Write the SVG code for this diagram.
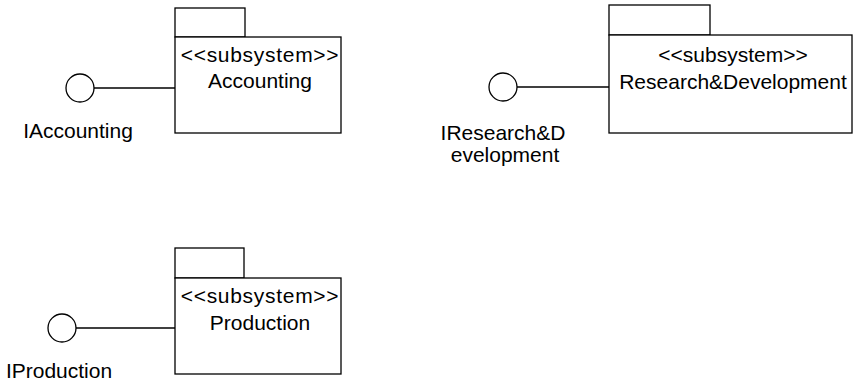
<svg xmlns="http://www.w3.org/2000/svg" width="857" height="383" viewBox="0 0 857 383">
<style>
.shape{fill:#fff;stroke:#000;stroke-width:1.3}
.conn{fill:none;stroke:#000;stroke-width:1.3}
text{font-family:"Liberation Sans",Arial,sans-serif;font-size:21px;fill:#000;text-anchor:middle}
.st{letter-spacing:0.7px}
</style>
<rect width="857" height="383" fill="#fff"/>
<g id="connectors">
<line class="conn" x1="94" y1="88" x2="175" y2="88"/>
<line class="conn" x1="517" y1="87" x2="609" y2="87"/>
<line class="conn" x1="76" y1="328" x2="175" y2="328"/>
</g>
<g id="IAccounting">
<circle class="shape" cx="80" cy="88" r="14"/>
<text x="78" y="138">IAccounting</text>
</g>
<g id="Accounting">
<rect class="shape" x="175" y="8" width="70" height="29"/>
<rect class="shape" x="175" y="37" width="166" height="96"/>
<text class="st" x="260" y="62">&lt;&lt;subsystem&gt;&gt;</text>
<text x="260" y="88">Accounting</text>
</g>
<g id="IResearchDevelopment">
<circle class="shape" cx="503" cy="87" r="14"/>
<text x="503" y="140">IResearch&amp;D</text>
<text x="505" y="162">evelopment</text>
</g>
<g id="ResearchDevelopment">
<rect class="shape" x="609" y="5" width="101" height="30"/>
<rect class="shape" x="609" y="35" width="243" height="98"/>
<text x="733" y="62">&lt;&lt;subsystem&gt;&gt;</text>
<text x="733" y="89">Research&amp;Development</text>
</g>
<g id="IProduction">
<circle class="shape" cx="62" cy="328" r="14"/>
<text x="59" y="378">IProduction</text>
</g>
<g id="Production">
<rect class="shape" x="175" y="248" width="69" height="30"/>
<rect class="shape" x="175" y="278" width="166" height="96"/>
<text class="st" x="260" y="303">&lt;&lt;subsystem&gt;&gt;</text>
<text x="260" y="330">Production</text>
</g>
</svg>
